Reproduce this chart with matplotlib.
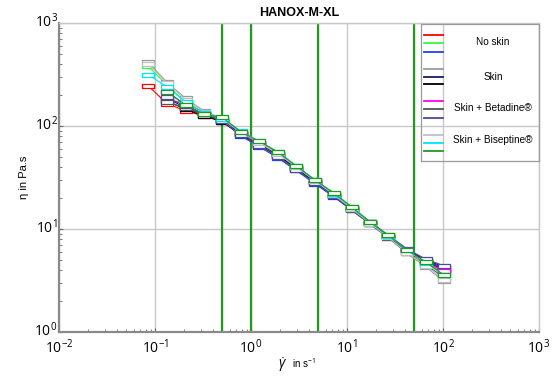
import numpy as np
import matplotlib
matplotlib.use("Agg")
import matplotlib.pyplot as plt
import matplotlib.transforms as mtransforms
from matplotlib.ticker import LogLocator, FixedLocator, NullFormatter

plt.rcParams['font.family'] = ['Liberation Sans', 'DejaVu Sans']
plt.rcParams['mathtext.fontset'] = 'custom'
plt.rcParams['mathtext.rm'] = 'Open Sans'
plt.rcParams['mathtext.it'] = 'Open Sans:italic'
plt.rcParams['mathtext.bf'] = 'Open Sans:bold'

# ---------------- data ----------------
shear_rate = [0.085, 0.133, 0.209, 0.324, 0.504, 0.784, 1.22, 1.90, 2.96, 4.62,
              7.30, 11.2, 17.4, 27.0, 42.2, 66.1, 102.0]

nan = float('nan')
series_labels = ["No skin", "No skin", "No skin",
                 "Skin", "Skin", "Skin",
                 "Skin + Betadine®", "Skin + Betadine®", "Skin + Betadine®",
                 "Skin + Biseptine®", "Skin + Biseptine®", "Skin + Biseptine®"]
series_colors = ["#ff0000", "#33ff33", "#1f3fff",
                 "#9a9a9a", "#1a1a66", "#000000",
                 "#ff00ff", "#555555", "#4b4b99",
                 "#c0c0c0", "#00e5ff", "#229922"]

eta_red    = [245, 165, 140, 125, 114, 85, 68, 53, 40, 29, 21.5, 16.0, 11.5, 8.5, 6.1, 4.7, 3.7]
eta_lime   = [380, 250, 170, 135, 118, 87, 70, 55, 41, 30, 22.0, 16.2, 11.8, 8.6, 6.2, 4.8, 3.8]
eta_blue   = [nan, 215, 160, 130, 112, 80, 63, 49, 37, 27.5, 20.5, 15.2, 11.2, 8.4, 6.2, 4.9, 4.2]
eta_gray   = [417, 265, 185, 140, 118, 86, 68, 53, 39, 29, 21.5, 15.8, 11.3, 8.2, 5.8, 4.3, 3.1]
eta_navy   = [nan, 186, 150, 128, 110, 82, 65, 51, 38, 28.5, 21.0, 15.6, 11.5, 8.6, 6.3, 5.0, 4.3]
eta_black  = [nan, 175, 145, 125, 110, 83, 66, 52, 39, 28.5, 21.0, 15.5, 11.4, 8.5, 6.2, 4.9, 4.0]
eta_mag    = [nan, 178, 168, 135, 116, 86, 69, 54, 40, 29.5, 21.8, 16.0, 11.6, 8.6, 6.2, 4.8, 3.9]
eta_dgray  = [nan, 170, 150, 130, 113, 84, 66, 51, 38, 28, 20.8, 15.3, 11.1, 8.2, 5.9, 4.5, 3.4]
eta_slate  = [nan, 190, 155, 130, 112, 81, 64, 50, 37.5, 28, 21.0, 15.6, 11.6, 8.7, 6.4, 5.1, 4.4]
eta_silver = [400, 260, 180, 138, 117, 87, 69, 54, 40, 29.5, 21.5, 15.8, 11.3, 8.3, 5.9, 4.4, 3.2]
eta_cyan   = [315, 240, 170, 135, 118, 89, 71, 56, 41, 30, 22.0, 16.2, 11.6, 8.6, 6.2, 4.7, 3.6]
eta_forest = [nan, 214, 160, 130, 121, 88, 71, 56, 41, 30, 22.4, 16.4, 11.7, 8.7, 6.25, 4.8, 3.57]

all_eta = [eta_red, eta_lime, eta_blue, eta_gray, eta_navy, eta_black,
           eta_mag, eta_dgray, eta_slate, eta_silver, eta_cyan, eta_forest]

ref_lines = [0.5, 1, 5, 50]
group_names = ["No skin", "Skin", "Skin + Betadine®", "Skin + Biseptine®"]

# ---------------- figure ----------------
fig = plt.figure(figsize=(5.6, 3.77), dpi=100)
ax = fig.add_axes([59/560, 1-332/377, 480/560, 309/377])
ax.set_xscale('log')
ax.set_yscale('log')
ax.set_xlim(1e-2, 1e3)
ax.set_ylim(1e0, 1e3)

ax.grid(True, which='major', color='#c8c8c8', linewidth=1.0)
ax.set_axisbelow(True)

for xv in ref_lines:
    ax.axvline(xv, color='#1f9a1f', linewidth=1.6, zorder=2)

rect = [(-1, -0.42), (1, -0.42), (1, 0.42), (-1, 0.42), (-1, -0.42)]
for eta, col in zip(all_eta, series_colors):
    ax.plot(shear_rate, eta, color=col, linewidth=0.8, marker=rect,
            markersize=8, markerfacecolor='white', markeredgecolor=col,
            markeredgewidth=0.9, zorder=3)

for sp in ['left', 'bottom']:
    ax.spines[sp].set_color('#8a8a8a')
    ax.spines[sp].set_linewidth(1.6)
for sp in ['top', 'right']:
    ax.spines[sp].set_color('#c8c8c8')
    ax.spines[sp].set_linewidth(1.0)

ax.xaxis.set_major_locator(FixedLocator([1e-2, 1e-1, 1e0, 1e1, 1e2, 1e3]))
ax.yaxis.set_major_locator(FixedLocator([1e0, 1e1, 1e2, 1e3]))
ax.xaxis.set_minor_locator(LogLocator(base=10, subs=np.arange(2, 10), numticks=20))
ax.yaxis.set_minor_locator(LogLocator(base=10, subs=np.arange(2, 10), numticks=20))
ax.xaxis.set_minor_formatter(NullFormatter())
ax.yaxis.set_minor_formatter(NullFormatter())
ax.set_xticklabels([r'$10^{-2}$', r'$10^{-1}$', r'$10^{0}$', r'$10^{1}$', r'$10^{2}$', r'$10^{3}$'])
ax.set_yticklabels([r'$10^{0}$', r'$10^{1}$', r'$10^{2}$', r'$10^{3}$'])
ax.tick_params(which='major', direction='in', length=3, color='#666666',
               labelsize=10, pad=1)
ax.tick_params(axis='x', which='major', pad=4)
ax.tick_params(which='minor', direction='in', length=2.5, color='#666666')
ax.tick_params(top=False, right=False, which='both')
shift_up = mtransforms.ScaledTranslation(0, 4/100, fig.dpi_scale_trans)
for lbl in ax.get_yticklabels():
    lbl.set_transform(lbl.get_transform() + shift_up)

ax.set_title('HANOX-M-XL', fontsize=9, fontweight='bold', pad=5)
ax.set_ylabel('η in Pa.s', fontsize=8, labelpad=4)
fig.text(0.5125, 1-365/377, r'$\dot{\gamma}$', fontsize=10, ha='right', va='center')
fig.text(0.522, 1-363/377, 'in s$^{-1}$', fontsize=7, ha='left', va='center')

# ---------------- legend (manual, axes coords) ----------------
def fx(px):
    return (px - 59) / 480
def fy(py):
    return 1 - (py - 23) / 309

box_x0, box_x1 = fx(421), fx(539)
box_y0, box_y1 = fy(161), fy(24)
ax.plot([box_x0, box_x1, box_x1, box_x0, box_x0],
        [box_y0, box_y0, box_y1, box_y1, box_y0],
        transform=ax.transAxes, color='#9a9a9a', linewidth=0.9, clip_on=False, zorder=5)

sample_y = [35, 43.3, 52.3, 69, 76.7, 84.3, 101, 109.3, 117.7, 135, 143.3, 151]
for py, col in zip(sample_y, series_colors):
    ax.plot([fx(424), fx(443)], [fy(py), fy(py)], transform=ax.transAxes,
            color=col, linewidth=1.3, clip_on=False, zorder=5)

label_y = [42, 77, 108, 140]
for py, name in zip(label_y, group_names):
    ax.text(fx(493), fy(py), name, transform=ax.transAxes, fontsize=7.2,
            ha='center', va='center', zorder=5)

fig.savefig('out.png', dpi=100)
